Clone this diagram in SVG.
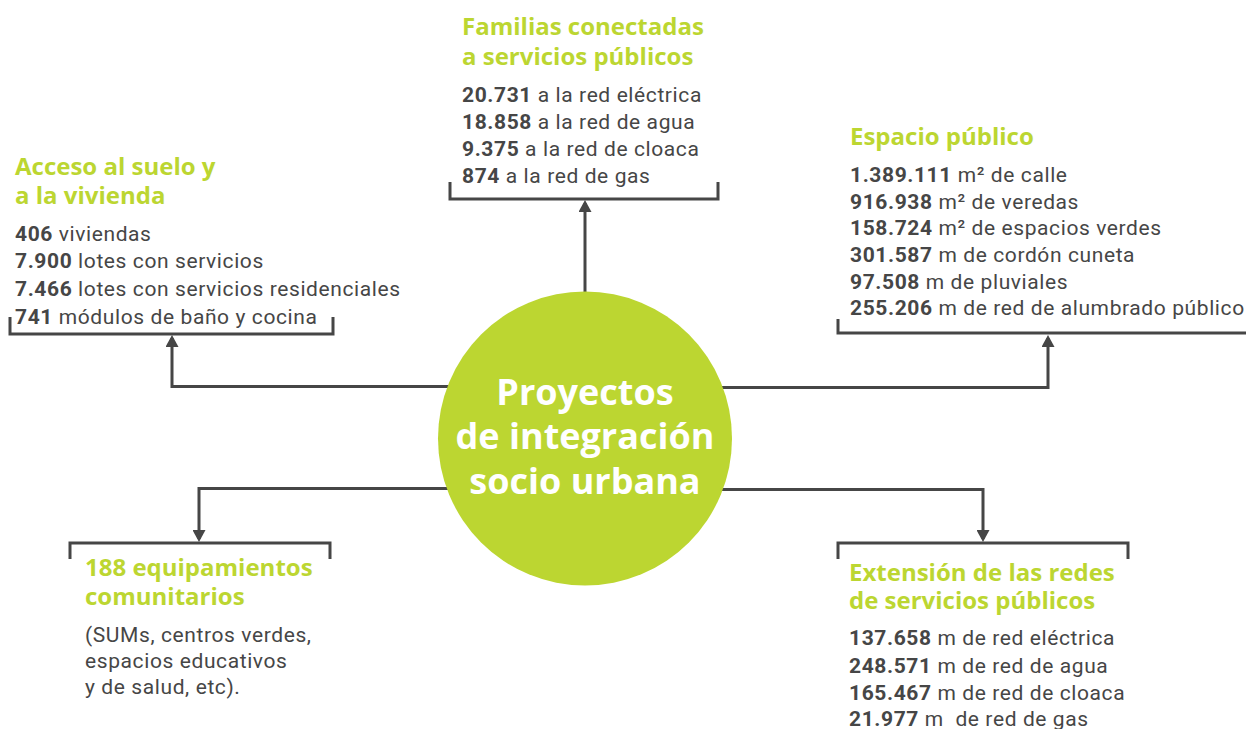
<svg xmlns="http://www.w3.org/2000/svg" width="1246" height="729" viewBox="0 0 1246 729">
<defs>
<style>
.ttl{font-family:"Open Sans","Liberation Sans",sans-serif;font-weight:700;font-size:24px;fill:#bcd631}
.bd{font-family:Roboto,"Liberation Sans",sans-serif;font-size:21px;letter-spacing:0.6px;fill:#464646}
.bd tspan.n{font-weight:700}
.ctr{font-family:"Open Sans","Liberation Sans",sans-serif;font-weight:700;font-size:36px;fill:#ffffff}
.ln{fill:none;stroke:#464646;stroke-width:3}
</style>
<marker id="ah" viewBox="0 0 12 13" refX="9" refY="6.5" markerWidth="12" markerHeight="13" markerUnits="userSpaceOnUse" orient="auto">
<path d="M0,0 L12,6.5 L0,13 z" fill="#464646"/>
</marker>
</defs>
<rect width="1246" height="729" fill="#ffffff"/>
<g id="connectors">
<path class="ln" d="M585 386.5 H172 V338" marker-end="url(#ah)"/>
<path class="ln" d="M585 300 V203" marker-end="url(#ah)"/>
<path class="ln" d="M585 387.5 H1048 V338" marker-end="url(#ah)"/>
<path class="ln" d="M585 488.5 H199 V539" marker-end="url(#ah)"/>
<path class="ln" d="M585 489.5 H983 V539" marker-end="url(#ah)"/>
</g>
<g id="center">
<circle cx="585" cy="438.5" r="147" fill="#bcd631"/>
<text class="ctr" text-anchor="middle"><tspan x="585" y="405">Proyectos</tspan><tspan x="585" y="449">de integración</tspan><tspan x="585" y="494">socio urbana</tspan></text>
</g>
<g id="acceso">
<path class="ln" d="M10 317 V334 H333 V317"/>
<text class="ttl"><tspan x="15" y="175">Acceso al suelo y</tspan><tspan x="15" y="204">a la vivienda</tspan></text>
<text class="bd"><tspan x="15" y="241"><tspan class="n">406</tspan> viviendas</tspan><tspan x="15" y="268"><tspan class="n">7.900</tspan> lotes con servicios</tspan><tspan x="15" y="296"><tspan class="n">7.466</tspan> lotes con servicios residenciales</tspan><tspan x="15" y="324"><tspan class="n">741</tspan> módulos de baño y cocina</tspan></text>
</g>
<g id="familias">
<path class="ln" d="M450 182 V199 H718 V182"/>
<text class="ttl"><tspan x="462" y="35">Familias conectadas</tspan><tspan x="462" y="65">a servicios públicos</tspan></text>
<text class="bd"><tspan x="462" y="102"><tspan class="n">20.731</tspan> a la red eléctrica</tspan><tspan x="462" y="129"><tspan class="n">18.858</tspan> a la red de agua</tspan><tspan x="462" y="156"><tspan class="n">9.375</tspan> a la red de cloaca</tspan><tspan x="462" y="183"><tspan class="n">874</tspan> a la red de gas</tspan></text>
</g>
<g id="espacio">
<path class="ln" d="M838 319 V333 H1246"/>
<text class="ttl"><tspan x="850" y="145">Espacio público</tspan></text>
<text class="bd"><tspan x="850" y="182"><tspan class="n">1.389.111</tspan> m² de calle</tspan><tspan x="850" y="209"><tspan class="n">916.938</tspan> m² de veredas</tspan><tspan x="850" y="235"><tspan class="n">158.724</tspan> m² de espacios verdes</tspan><tspan x="850" y="262"><tspan class="n">301.587</tspan> m de cordón cuneta</tspan><tspan x="850" y="289"><tspan class="n">97.508</tspan> m de pluviales</tspan><tspan x="850" y="315"><tspan class="n">255.206</tspan> m de red de alumbrado público</tspan></text>
</g>
<g id="equipamientos">
<path class="ln" d="M70 559 V543 H330 V559"/>
<text class="ttl"><tspan x="85" y="576">188 equipamientos</tspan><tspan x="85" y="605">comunitarios</tspan></text>
<text class="bd"><tspan x="85" y="642">(SUMs, centros verdes,</tspan><tspan x="85" y="668">espacios educativos</tspan><tspan x="85" y="694">y de salud, etc).</tspan></text>
</g>
<g id="extension">
<path class="ln" d="M838 559 V543 H1128 V559"/>
<text class="ttl"><tspan x="849" y="581">Extensión de las redes</tspan><tspan x="849" y="609">de servicios públicos</tspan></text>
<text class="bd"><tspan x="849" y="645"><tspan class="n">137.658</tspan> m de red eléctrica</tspan><tspan x="849" y="673"><tspan class="n">248.571</tspan> m de red de agua</tspan><tspan x="849" y="700"><tspan class="n">165.467</tspan> m de red de cloaca</tspan><tspan x="849" y="726"><tspan class="n">21.977</tspan> m&#160; de red de gas</tspan></text>
</g>
</svg>
